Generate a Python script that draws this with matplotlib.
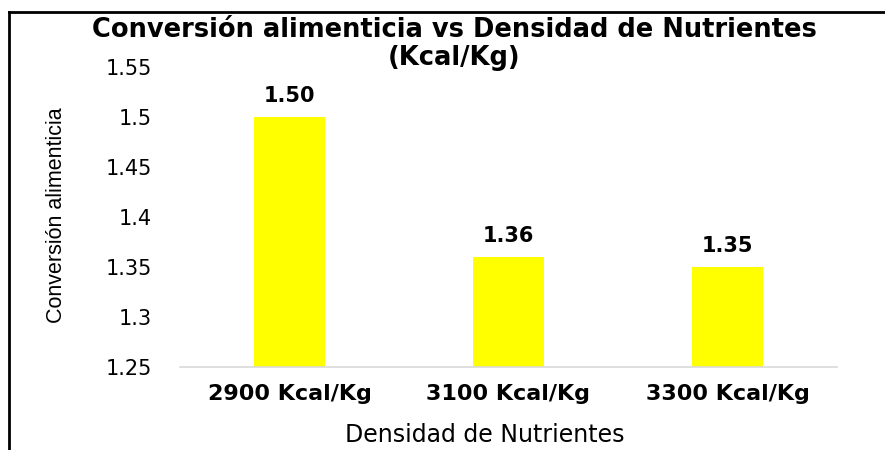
import matplotlib.pyplot as plt
from matplotlib.lines import Line2D

categories = ["2900 Kcal/Kg", "3100 Kcal/Kg", "3300 Kcal/Kg"]
values = [1.50, 1.36, 1.35]
yticks = [1.25, 1.3, 1.35, 1.4, 1.45, 1.5, 1.55]
ytick_labels = ["1.25", "1.3", "1.35", "1.4", "1.45", "1.5", "1.55"]

plt.rcParams["font.family"] = ["DejaVu Sans"]

fig = plt.figure(figsize=(8.85, 4.5), dpi=100)
# axes spans x 180..837 px, y 67..367 px
ax = fig.add_axes([180 / 885, 83 / 450, 657 / 885, 300 / 450])

x = range(len(categories))
bars = ax.bar(x, values, width=0.324, color="#ffff00", zorder=2)
for rect, v in zip(bars, values):
    ax.text(rect.get_x() + rect.get_width() / 2, v + 0.011, f"{v:.2f}",
            ha="center", va="bottom", fontsize=15, fontweight="bold")

ax.set_ylim(1.25, 1.55)
ax.set_xlim(-0.5, 2.5)
ax.set_yticks(yticks)
ax.set_yticklabels(ytick_labels, fontsize=15)
ax.set_xticks(list(x))
ax.set_xticklabels(categories, fontsize=16, fontweight="bold")
ax.tick_params(axis="both", length=0)
ax.tick_params(axis="y", pad=20)
ax.tick_params(axis="x", pad=12)

for side in ("top", "right", "left"):
    ax.spines[side].set_visible(False)
ax.spines["bottom"].set_color("#d9d9d9")
ax.spines["bottom"].set_linewidth(1.2)

fig.text(57 / 885, 1 - 215 / 450, "Conversión alimenticia", rotation=90,
         ha="center", va="center", fontsize=15.5, family=["Liberation Sans"])
fig.text(485 / 885, 1 - 435 / 450, "Densidad de Nutrientes",
         ha="center", va="center", fontsize=17)

fig.text(454 / 885, 1 - 30 / 450, "Conversión alimenticia vs Densidad de Nutrientes",
         ha="center", va="center", fontsize=18.5, fontweight="bold")
fig.text(454 / 885, 1 - 58 / 450, "(Kcal/Kg)",
         ha="center", va="center", fontsize=18.5, fontweight="bold")

# outer frame (only top and left edges visible in the source)
fig.add_artist(Line2D([9 / 885, 1.0], [1 - 12 / 450, 1 - 12 / 450], color="black", lw=2,
                      transform=fig.transFigure))
fig.add_artist(Line2D([9 / 885, 9 / 885], [0.0, 1 - 12 / 450], color="black", lw=2,
                      transform=fig.transFigure))

fig.savefig("out.png", dpi=100)
